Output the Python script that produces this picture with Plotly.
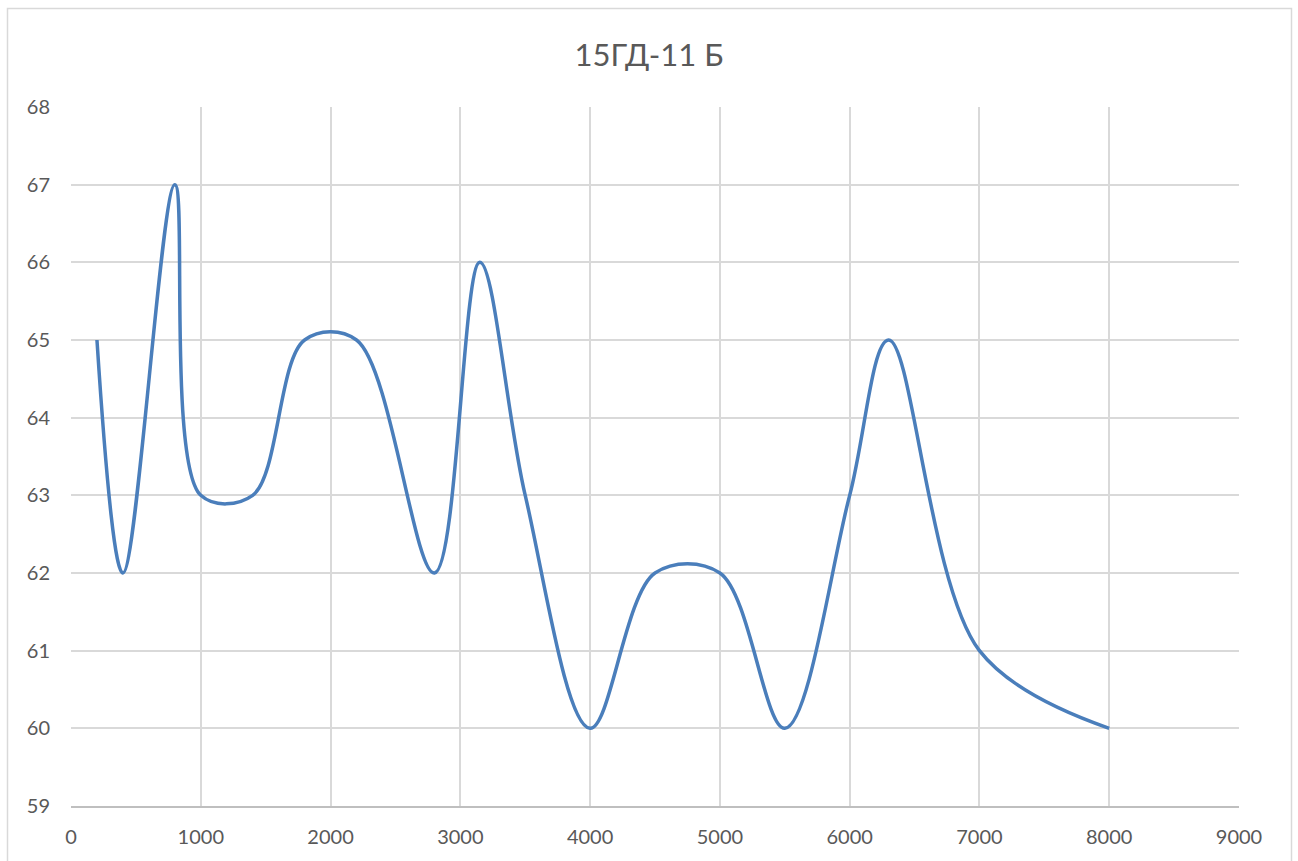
import plotly.graph_objects as go

# Frequency response points (Hz, dB)
freq_hz = [200, 400, 800, 1000, 1400, 1800, 2200, 2800, 3150, 3500,
           4000, 4500, 5000, 5500, 6000, 6300, 7000, 8000]
level_db = [65, 62, 67, 63, 63, 65, 65, 62, 66, 63,
            60, 62, 62, 60, 63, 65, 61, 60]

title_text = "15ГД-11 Б"
x_ticks = [0, 1000, 2000, 3000, 4000, 5000, 6000, 7000, 8000, 9000]
y_ticks = [59, 60, 61, 62, 63, 64, 65, 66, 67, 68]

W, H = 1298, 861
L, R, T, B = 71, 59, 107, 55
pw, ph = W - L - R, H - T - B

def px_x(p):
    return (p - L) / pw

def px_y(p):
    return (H - B - p) / ph

fig = go.Figure()
fig.add_trace(go.Scatter(
    x=freq_hz, y=level_db, mode="lines",
    line=dict(color="#4a7ebb", width=3.5, shape="spline", smoothing=1.0),
    hoverinfo="x+y", showlegend=False,
))

grid = "#d9d9d9"
font_fam = "Lato, 'Open Sans', sans-serif"
fig.update_layout(
    width=W, height=H,
    margin=dict(l=L, r=R, t=T, b=B),
    paper_bgcolor="white", plot_bgcolor="white",
    title=dict(text=title_text, x=0.5, xanchor="center", y=1 - 55 / H, yanchor="middle",
               font=dict(family=font_fam, size=31, color="#595959")),
    xaxis=dict(range=[0, 9000], tickvals=x_ticks, ticktext=[str(v) for v in x_ticks],
               showgrid=True, gridcolor=grid, gridwidth=1.5, zeroline=False,
               showline=True, linecolor="#bfbfbf", linewidth=1.5,
               ticks="", ticklabelstandoff=12,
               tickfont=dict(family=font_fam, size=20, color="#595959")),
    yaxis=dict(range=[59, 68], tickvals=y_ticks, ticktext=[str(v) for v in y_ticks],
               showgrid=True, gridcolor=grid, gridwidth=1.5, zeroline=False,
               showline=False, ticks="", ticklabelstandoff=20,
               tickfont=dict(family=font_fam, size=20, color="#595959")),
    shapes=[dict(type="rect", xref="paper", yref="paper", layer="below",
                 x0=px_x(7.5), x1=px_x(1291.5), y0=px_y(880), y1=px_y(8.5),
                 line=dict(color="#d9d9d9", width=1.5), fillcolor="rgba(0,0,0,0)")],
)

fig.write_html("out.html")
